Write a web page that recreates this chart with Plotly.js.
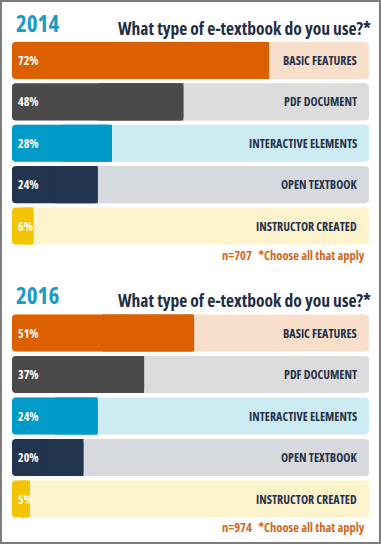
<!DOCTYPE html>
<html><head><meta charset="utf-8">
<script src="https://cdn.plot.ly/plotly-3.0.1.min.js"></script>
<style>html,body{margin:0;padding:0;background:#fff}#c{width:381px;height:544px}text{font-stretch:condensed}</style>
</head><body><div id="c"></div>
<script>
const categories = ["BASIC FEATURES","PDF DOCUMENT","INTERACTIVE ELEMENTS","OPEN TEXTBOOK","INSTRUCTOR CREATED"];
const values2014 = [72,48,28,24,6];
const values2016 = [51,37,24,20,5];
const years = ["2014","2016"];
const sampleSizes = ["707","974"];
const question = "What type of e-textbook do you use?*";
const note = "*Choose all that apply";
const total = 100;
const fullColors = ["#dc5f00","#4a4a4a","#009bc8","#22344e","#f5c400"];
const lightColors = ["#f8dfcc","#dcdcdc","#cdebf3","#d6d9de","#fdf3cc"];

const FONT = "'Open Sans','Roboto Condensed',sans-serif";
const W = 381, H = 544;
const panels = [
  {vals: values2014, xa:'x', ya:'y', top:39.8, bottom:246.7, yearY:23, qY:28, noteY:255},
  {vals: values2016, xa:'x2', ya:'y2', top:312.3, bottom:519.8, yearY:295, qY:300, noteY:527}
];
const traces = [], annotations = [];
const layout = {
  width: W, height: H, margin:{l:0,r:0,t:0,b:0},
  paper_bgcolor:'#fff', plot_bgcolor:'rgba(0,0,0,0)',
  barmode:'overlay', bargap:0.105, barcornerradius:0, showlegend:false,
  font:{family:FONT},
  shapes:[{type:'rect',xref:'paper',yref:'paper',x0:0,x1:1,y0:0,y1:1,line:{color:'#7d7d7d',width:4},fillcolor:'rgba(0,0,0,0)'}]
};
panels.forEach((p,i)=>{
  const zeros = categories.map(()=>0);
  const common = {type:'bar', orientation:'h', y:categories, xaxis:p.xa, yaxis:p.ya, hoverinfo:'skip'};
  // track (rounded both ends)
  traces.push(Object.assign({}, common, {base:zeros, x:categories.map(()=>total), marker:{color:lightColors, cornerradius:4}}));
  // filled part: rounded piece + square piece on its right half
  traces.push(Object.assign({}, common, {base:zeros, x:p.vals, marker:{color:fullColors, cornerradius:4}}));
  traces.push(Object.assign({}, common, {base:p.vals.map(v=>v/2), x:p.vals.map(v=>v/2), marker:{color:fullColors, cornerradius:0}}));
  const xk = i===0?'xaxis':'xaxis2', yk = i===0?'yaxis':'yaxis2';
  layout[xk] = {domain:[12/W,369/W], range:[0,total], visible:false, fixedrange:true};
  if (i===1) layout[xk].anchor='y2';
  layout[yk] = {domain:[1-p.bottom/H, 1-p.top/H], type:'category', autorange:'reversed', visible:false, fixedrange:true};
  if (i===1) layout[yk].anchor='x2';
  categories.forEach((c,j)=>{
    annotations.push({xref:p.xa, yref:p.ya, x:0, y:c, text:p.vals[j]+'%', xanchor:'left', xshift:4, showarrow:false,
      font:{family:FONT, size:12, color:'#ffffff', weight:'bold'}});
    annotations.push({xref:p.xa, yref:p.ya, x:total, y:c, text:c, xanchor:'right', xshift:-10, showarrow:false,
      font:{family:FONT, size:12, color:'#26324a', weight:'bold'}});
  });
  annotations.push({xref:'paper', yref:'paper', x:14/W, y:1-p.yearY/H, text:years[i], xanchor:'left', yanchor:'middle', showarrow:false,
    font:{family:FONT, size:23, color:'#1a9ac7', weight:'bold'}});
  annotations.push({xref:'paper', yref:'paper', x:373/W, y:1-p.qY/H, text:question, xanchor:'right', yanchor:'middle', showarrow:false,
    font:{family:FONT, size:17.5, color:'#1f2d45', weight:'bold'}});
  annotations.push({xref:'paper', yref:'paper', x:367/W, y:1-p.noteY/H, text:'n='+sampleSizes[i]+'   '+note, xanchor:'right', yanchor:'middle', showarrow:false,
    font:{family:FONT, size:12.5, color:'#d2671c', weight:'bold'}});
});
layout.annotations = annotations;
Plotly.newPlot('c', traces, layout, {displayModeBar:false, staticPlot:true});
</script></body></html>
